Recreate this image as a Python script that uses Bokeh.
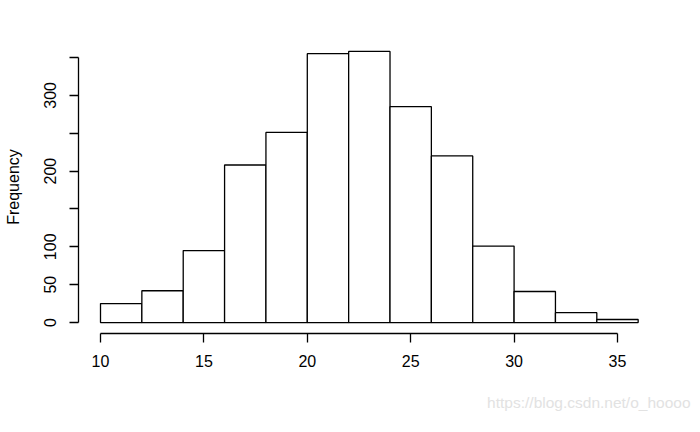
from bokeh.plotting import figure
from bokeh.models import LinearAxis, FixedTicker, Range1d, Title
from bokeh.embed import file_html
from bokeh.resources import INLINE

# Histogram data
bin_edges = [10, 12, 14, 16, 18, 20, 22, 24, 26, 28, 30, 32, 34, 36]
counts = [25, 42, 95, 208, 251, 355, 358, 285, 220, 101, 41, 13, 4]
x_ticks = [10, 15, 20, 25, 30, 35]
y_ticks = [0, 50, 100, 150, 200, 250, 300, 350]
y_tick_labels = {0: "0", 50: "50", 100: "100", 150: "", 200: "200",
                 250: "", 300: "300", 350: ""}
y_label = "Frequency"
watermark = "https://blog.csdn.net/o_hoooo"

FONT = "Liberation Sans"

p = figure(width=700, height=432, output_backend="svg", toolbar_location=None,
           x_range=Range1d(8.936, 37.08), y_range=Range1d(-14.47, 372.4),
           x_axis_location=None, y_axis_location=None,
           min_border_left=78, min_border_right=40,
           min_border_top=40, min_border_bottom=98)
p.grid.visible = False
p.outline_line_color = None
p.background_fill_color = "white"
p.border_fill_color = "white"

p.quad(left=bin_edges[:-1], right=bin_edges[1:], top=counts, bottom=0,
       fill_color="white", line_color="black", line_width=1.3)

xaxis = LinearAxis(ticker=FixedTicker(ticks=x_ticks), bounds=(x_ticks[0], x_ticks[-1]))
yaxis = LinearAxis(ticker=FixedTicker(ticks=y_ticks), bounds=(y_ticks[0], y_ticks[-1]),
                   axis_label=y_label)
yaxis.major_label_overrides = {k: v for k, v in y_tick_labels.items()}
yaxis.major_label_orientation = "vertical"

for ax in (xaxis, yaxis):
    ax.axis_line_color = "black"
    ax.axis_line_width = 1.3
    ax.major_tick_line_color = "black"
    ax.major_tick_line_width = 1.3
    ax.major_tick_out = 9
    ax.major_tick_in = 0
    ax.minor_tick_line_color = None
    ax.major_label_text_font = FONT
    ax.major_label_text_font_size = "16px"
    ax.major_label_text_color = "black"
    ax.axis_label_text_font = FONT
    ax.axis_label_text_font_size = "16px"
    ax.axis_label_text_font_style = "normal"
    ax.axis_label_text_color = "black"

xaxis.major_label_standoff = 12
yaxis.major_label_standoff = 13
yaxis.axis_label_standoff = 20

p.add_layout(xaxis, "below")
p.add_layout(yaxis, "left")

wm = Title(text=watermark, align="right", text_font=FONT, text_font_size="15.5px",
           text_font_style="normal", text_color="#e2e2e2", standoff=44, offset=-30)
p.add_layout(wm, "below")

open("out.html", "w").write(file_html(p, INLINE))
